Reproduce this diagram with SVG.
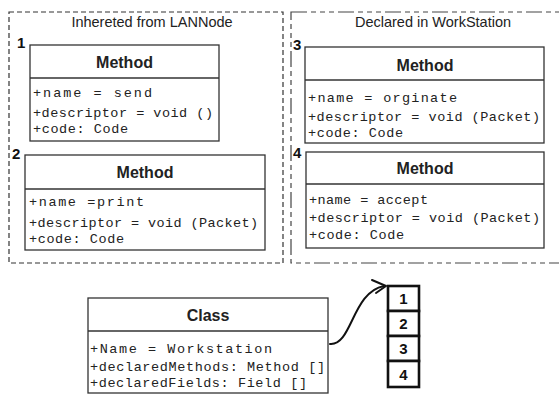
<svg xmlns="http://www.w3.org/2000/svg" width="559" height="394" viewBox="0 0 559 394">
<style>
.box{fill:#fff;stroke:#333;stroke-width:1.3}
.div{stroke:#333;stroke-width:1.3}
.ttl{font-family:"Liberation Sans",Arial,sans-serif;font-weight:bold;font-size:16px;fill:#222;text-anchor:middle}
.row{font-family:"Liberation Mono","Courier New",monospace;font-size:13.5px;fill:#222}
.grp{font-family:"Liberation Sans",Arial,sans-serif;font-size:14.5px;fill:#222;text-anchor:middle}
.num{font-family:"Liberation Sans",Arial,sans-serif;font-weight:bold;font-size:15px;fill:#111}
.cell{fill:#fff;stroke:#111;stroke-width:2.6}
</style>
<g id="inherited-group">
<rect x="9" y="12" width="274" height="251" fill="none" stroke="#333" stroke-width="1.2" stroke-dasharray="5 3"/>
<text class="grp" x="152" y="27">Inhereted from LANNode</text>
</g>
<g id="declared-group">
<rect x="291" y="12" width="270" height="251" fill="none" stroke="#444" stroke-width="1.2" stroke-dasharray="16 4 5 4 5 4 5 4"/>
<text class="grp" x="433" y="27">Declared in WorkStation</text>
</g>
<g id="method1">
<text class="num" x="17" y="48">1</text>
<rect class="box" x="30" y="45" width="189" height="96"/>
<line class="div" x1="30" y1="78" x2="219" y2="78"/>
<text class="ttl" x="124.5" y="68">Method</text>
<text class="row" x="33" y="97" textLength="119" lengthAdjust="spacing">+name = send</text>
<text class="row" x="33" y="117" textLength="180" lengthAdjust="spacing">+descriptor = void ()</text>
<text class="row" x="33" y="133" textLength="95" lengthAdjust="spacing">+code: Code</text>
</g>
<g id="method2">
<text class="num" x="12" y="159">2</text>
<rect class="box" x="25" y="155" width="240" height="95"/>
<line class="div" x1="25" y1="189" x2="265" y2="189"/>
<text class="ttl" x="145" y="178">Method</text>
<text class="row" x="29" y="206" textLength="115" lengthAdjust="spacing">+name =print</text>
<text class="row" x="29" y="227" textLength="229" lengthAdjust="spacing">+descriptor = void (Packet)</text>
<text class="row" x="29" y="243" textLength="95" lengthAdjust="spacing">+code: Code</text>
</g>
<g id="method3">
<text class="num" x="293" y="50">3</text>
<rect class="box" x="305" y="47" width="239" height="96"/>
<line class="div" x1="305" y1="80" x2="544" y2="80"/>
<text class="ttl" x="425" y="71">Method</text>
<text class="row" x="308" y="102" textLength="149" lengthAdjust="spacing">+name = orginate</text>
<text class="row" x="308" y="121" textLength="232" lengthAdjust="spacing">+descriptor = void (Packet)</text>
<text class="row" x="308" y="137" textLength="95" lengthAdjust="spacing">+code: Code</text>
</g>
<g id="method4">
<text class="num" x="293" y="158">4</text>
<rect class="box" x="306" y="152" width="238" height="96"/>
<line class="div" x1="306" y1="184" x2="544" y2="184"/>
<text class="ttl" x="425" y="174">Method</text>
<text class="row" x="309" y="204" textLength="119" lengthAdjust="spacing">+name = accept</text>
<text class="row" x="309" y="222" textLength="231" lengthAdjust="spacing">+descriptor = void (Packet)</text>
<text class="row" x="309" y="239" textLength="95" lengthAdjust="spacing">+code: Code</text>
</g>
<g id="class">
<rect class="box" x="88" y="298" width="240" height="95"/>
<line class="div" x1="88" y1="331" x2="328" y2="331"/>
<text class="ttl" x="208" y="321">Class</text>
<text class="row" x="90" y="353" textLength="182" lengthAdjust="spacing">+Name = Workstation</text>
<text class="row" x="90" y="371" textLength="235" lengthAdjust="spacing">+declaredMethods: Method []</text>
<text class="row" x="90" y="387" textLength="217" lengthAdjust="spacing">+declaredFields: Field []</text>
</g>
<g id="array">
<rect class="cell" x="388" y="286" width="31" height="25"/>
<rect class="cell" x="388" y="311" width="31" height="25"/>
<rect class="cell" x="388" y="336" width="31" height="25"/>
<rect class="cell" x="388" y="361" width="31" height="26"/>
<text class="num" x="403.5" y="304" text-anchor="middle">1</text>
<text class="num" x="403.5" y="329" text-anchor="middle">2</text>
<text class="num" x="403.5" y="354" text-anchor="middle">3</text>
<text class="num" x="403.5" y="380" text-anchor="middle">4</text>
</g>
<g id="connectors" fill="none" stroke="#111" stroke-width="2" stroke-linecap="round" stroke-linejoin="round">
<path d="M330 344 C352 346 352 292 384 286"/>
<path d="M372 280 L386 286 L376 293"/>
</g>
</svg>
